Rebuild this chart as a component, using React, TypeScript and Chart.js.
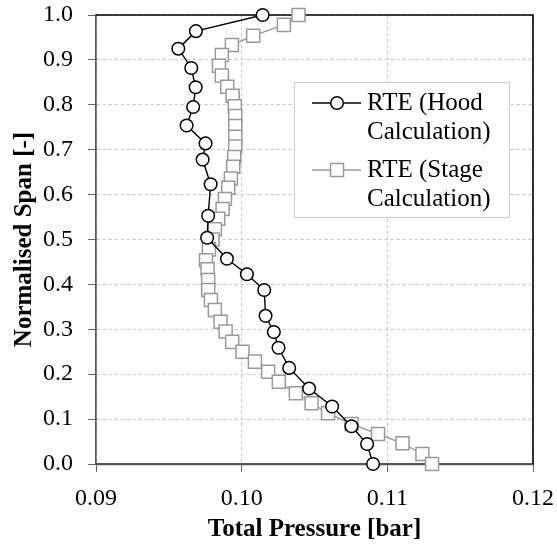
import React, { useEffect, useRef } from "react";
import { Chart, registerables } from "chart.js";

Chart.register(...registerables);

const hoodPressure = [0.10144, 0.09686, 0.09565, 0.09654, 0.09684, 0.09667, 0.09622, 0.09752, 0.09732, 0.09787, 0.0977, 0.09763, 0.09899, 0.10036, 0.10155, 0.10164, 0.10221, 0.10253, 0.10326, 0.10463, 0.10621, 0.10754, 0.10861, 0.10902];
const hoodSpan = [1.0, 0.964, 0.925, 0.882, 0.839, 0.795, 0.754, 0.714, 0.678, 0.623, 0.553, 0.504, 0.457, 0.4225, 0.3875, 0.33, 0.294, 0.259, 0.214, 0.168, 0.128, 0.084, 0.0445, 0.0];

const stagePressure = [0.1039, 0.1029, 0.10079, 0.09933, 0.09864, 0.09844, 0.09864, 0.09901, 0.09938, 0.09953, 0.09956, 0.09956, 0.09956, 0.09956, 0.09949, 0.09942, 0.09926, 0.09908, 0.09885, 0.09869, 0.09839, 0.09816, 0.098, 0.09775, 0.09755, 0.09766, 0.0977, 0.0977, 0.09789, 0.09816, 0.09855, 0.0989, 0.09935, 0.10006, 0.10091, 0.10182, 0.10255, 0.10372, 0.1048, 0.10593, 0.10754, 0.10936, 0.11104, 0.11241, 0.11307];
const stageSpan = [1.0, 0.978, 0.954, 0.933, 0.911, 0.887, 0.865, 0.84, 0.82, 0.797, 0.775, 0.753, 0.729, 0.707, 0.684, 0.662, 0.636, 0.615, 0.59, 0.568, 0.546, 0.523, 0.5, 0.478, 0.454, 0.434, 0.41, 0.3875, 0.365, 0.343, 0.317, 0.295, 0.272, 0.25, 0.228, 0.2056, 0.183, 0.1575, 0.1353, 0.1129, 0.089, 0.0668, 0.046, 0.0223, 0.0];

const seriesNames = [["RTE (Hood", "Calculation)"], ["RTE (Stage", "Calculation)"]];
const xTitle = "Total Pressure [bar]";
const yTitle = "Normalised Span [-]";

const FONT = "'Liberation Serif', 'Times New Roman', serif";

const frameAndLegend = {
  id: "frameAndLegend",
  beforeDatasetsDraw(chart: any) {
    const { ctx, chartArea } = chart;
    ctx.save();
    ctx.strokeStyle = "#000";
    ctx.lineWidth = 1.6;
    ctx.setLineDash([]);
    ctx.beginPath();
    ctx.moveTo(chartArea.left, chartArea.top);
    ctx.lineTo(chartArea.right, chartArea.top);
    ctx.lineTo(chartArea.right, chartArea.bottom);
    ctx.stroke();
    ctx.restore();
  },
  afterDraw(chart: any) {
    const { ctx, chartArea } = chart;
    const bx = chartArea.left + 198;
    const by = chartArea.top + 67;
    const bw = 215;
    const bh = 135;
    ctx.save();
    ctx.fillStyle = "#fff";
    ctx.fillRect(bx, by, bw, bh);
    ctx.strokeStyle = "#cccccc";
    ctx.lineWidth = 1;
    ctx.strokeRect(bx + 0.5, by + 0.5, bw, bh);
    const rows = [by + 21, by + 88];
    const styles = [
      { color: "#000", point: "circle" },
      { color: "#999", point: "rect" },
    ];
    rows.forEach((ry, i) => {
      const st = styles[i];
      ctx.strokeStyle = st.color;
      ctx.lineWidth = 1.4;
      ctx.beginPath();
      ctx.moveTo(bx + 18, ry);
      ctx.lineTo(bx + 67, ry);
      ctx.stroke();
      ctx.fillStyle = "#fff";
      ctx.lineWidth = 1.5;
      if (st.point === "circle") {
        ctx.beginPath();
        ctx.arc(bx + 43, ry, 6.3, 0, Math.PI * 2);
        ctx.fill();
        ctx.stroke();
      } else {
        ctx.fillRect(bx + 36.5, ry - 6.5, 13, 13);
        ctx.strokeRect(bx + 36.5, ry - 6.5, 13, 13);
      }
      ctx.fillStyle = "#000";
      ctx.font = "25px " + FONT;
      ctx.textBaseline = "middle";
      ctx.textAlign = "left";
      ctx.fillText(seriesNames[i][0], bx + 73, ry);
      ctx.fillText(seriesNames[i][1], bx + 73, ry + 29);
    });
    ctx.restore();
  },
};

export default function App() {
  const ref = useRef<HTMLCanvasElement | null>(null);
  useEffect(() => {
    if (!ref.current) return;
    const chart = new Chart(ref.current, {
      type: "line",
      data: {
        datasets: [
          {
            label: seriesNames[0].join(" "),
            data: hoodPressure.map((x, i) => ({ x, y: hoodSpan[i] })),
            borderColor: "#000",
            borderWidth: 1.4,
            pointStyle: "circle",
            pointRadius: 6.3,
            pointBorderWidth: 1.5,
            pointBackgroundColor: "#fff",
            pointBorderColor: "#000",
            tension: 0,
            clip: false,
            order: 0,
          },
          {
            label: seriesNames[1].join(" "),
            data: stagePressure.map((x, i) => ({ x, y: stageSpan[i] })),
            borderColor: "#999",
            borderWidth: 1.4,
            pointStyle: "rect",
            pointRadius: 9.2,
            pointBorderWidth: 1.5,
            pointBackgroundColor: "#fff",
            pointBorderColor: "#999",
            tension: 0,
            clip: false,
            order: 1,
          },
        ],
      },
      options: {
        animation: false,
        responsive: false,
        layout: { padding: { left: 0, right: 24, top: 15, bottom: 0 } },
        plugins: { legend: { display: false }, tooltip: { enabled: false } },
        scales: {
          x: {
            type: "linear",
            min: 0.09,
            max: 0.12,
            ticks: {
              stepSize: 0.01,
              padding: 12,
              color: "#000",
              font: { family: FONT, size: 24 },
              callback: (v: any) => Number(v).toFixed(2),
            },
            grid: {
              color: "#c4c4c4",
              lineWidth: 1,
              tickColor: "#666",
              tickLength: 8,
              tickBorderDash: [],
            },
            border: { display: true, color: "#555", width: 2.2, dash: [3, 3] },
            title: {
              display: true,
              text: xTitle,
              color: "#000",
              font: { family: FONT, size: 25, weight: "bold" },
              padding: { top: 0, bottom: 0 },
            },
            afterFit: (s: any) => {
              s.height = 81;
              s.paddingLeft = 0;
              s.paddingRight = 0;
            },
          },
          y: {
            type: "linear",
            min: 0,
            max: 1,
            ticks: {
              stepSize: 0.1,
              padding: 15,
              color: "#000",
              font: { family: FONT, size: 24 },
              callback: (v: any) => Number(v).toFixed(1),
            },
            grid: {
              color: "#c4c4c4",
              lineWidth: 1,
              tickColor: "#666",
              tickLength: 8,
              tickBorderDash: [],
            },
            border: { display: true, color: "#555", width: 1.7, dash: [3, 3] },
            title: {
              display: true,
              text: yTitle,
              color: "#000",
              font: { family: FONT, size: 25, weight: "bold" },
              padding: { top: 10, bottom: 0 },
            },
            afterFit: (s: any) => {
              s.width = 96;
              s.paddingTop = 0;
              s.paddingBottom = 0;
            },
          },
        },
      },
      plugins: [frameAndLegend],
    } as any);
    return () => chart.destroy();
  }, []);
  return (
    <div style={{ position: "fixed", left: 0, top: 0, width: 557, height: 545, background: "#fff" }}>
      <canvas ref={ref} width={557} height={545} />
    </div>
  );
}
